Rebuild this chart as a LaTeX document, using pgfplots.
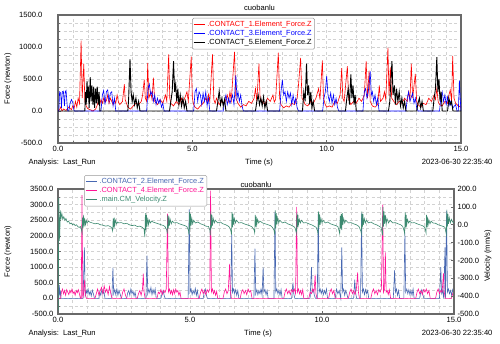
\documentclass[border=0pt]{standalone}
\usepackage{pgfplots}
\pgfplotsset{compat=1.18}
\usepackage{fontspec}
\setmainfont{Liberation Sans}

\definecolor{cred}{RGB}{255,0,0}
\definecolor{cblue}{RGB}{0,0,255}
\definecolor{cblack}{RGB}{0,0,0}
\definecolor{csteel}{RGB}{72,104,178}
\definecolor{cpink}{RGB}{255,20,150}
\definecolor{cgreen}{RGB}{60,138,112}
\definecolor{cframe}{RGB}{105,105,105}

\pgfplotsset{
  adams/.style={
    scale only axis,
    anchor=south west,
    font=\fontsize{7.6}{9}\selectfont,
    tick label style={font=\fontsize{7.6}{9}\selectfont},
    /pgf/number format/.cd, fixed, fixed zerofill, precision=1, 1000 sep={}, assume math mode=true,
    /pgfplots/.cd,
    axis line style={draw=cframe, line width=1.1pt},
    tick style={draw=cframe, line width=0.5pt},
    tick align=inside,
    major tick length=3pt,
    minor tick length=1.5pt,
    xmin=0, xmax=15,
    xtick={0,5,10,15},
    minor x tick num=8,
    grid=both,
    major grid style={draw=gray!35, dash pattern=on 3pt off 2.5pt, line width=0.4pt},
    minor grid style={draw=gray!35, dash pattern=on 3pt off 2.5pt, line width=0.4pt},
    legend cell align=left,
    legend image code/.code={\draw[##1, line width=0.8pt] (0cm,0cm) -- (0.4cm,0cm);},
    legend style={font=\fontsize{7.4}{8}\selectfont, draw=gray!80, fill=white,
      rounded corners=1.5pt, inner sep=1pt, row sep=-1.8pt, line width=0.5pt},
  },
}

\begin{document}
\begin{tikzpicture}[font=\fontsize{7.6}{9}\selectfont]
\useasboundingbox (0,0) rectangle (500pt,343pt);

% ---------- top plot ----------
\begin{axis}[adams,
  at={(58pt,200pt)}, width=403pt, height=128pt,
  ymin=-500, ymax=1500, ytick={-500,0,...,1500}, minor y tick num=3,
  xtick pos=bottom, ytick pos=left,
  yticklabel style={xshift=-12pt},
  legend style={at={(0.3325,0.977)}, anchor=north west},
]
\addplot[cred, line width=0.6pt] coordinates {
(0,0) (0.05,20) (0.1,60) (0.15,0) (0.2,30) (0.3,10) (0.4,60) (0.5,20) (0.55,80) (0.6,40) (0.65,150) (0.7,60) (0.75,200) (0.8,120) (0.86,1100) (0.9,200) (0.96,740) (1.0,150) (1.05,80) (1.1,40) (1.2,20) (1.3,0) (1.4,30) (1.45,80) (1.5,150) (1.55,100) (1.6,180) (1.65,120) (1.7,200) (1.75,140) (1.8,160) (1.85,250) (1.9,120) (1.95,200) (2.0,150) (2.05,100) (2.1,180) (2.15,120) (2.2,250) (2.25,140) (2.3,100) (2.4,150) (2.47,420) (2.5,180) (2.55,120) (2.6,60) (2.7,30) (2.8,80) (2.9,120) (3.0,100) (3.1,150) (3.15,250) (3.21,490) (3.25,200) (3.3,150) (3.34,750) (3.38,200) (3.45,300) (3.5,180) (3.55,520) (3.6,150) (3.7,100) (3.8,180) (3.9,120) (4.0,250) (4.05,150) (4.12,885) (4.16,200) (4.2,120) (4.3,80) (4.4,150) (4.5,100) (4.6,200) (4.65,120) (4.7,180) (4.8,300) (4.85,150) (4.96,850) (5.0,200) (5.05,100) (5.1,60) (5.2,30) (5.3,80) (5.4,120) (5.5,200) (5.55,140) (5.6,260) (5.65,150) (5.75,885) (5.8,180) (5.85,120) (5.9,200) (6.0,100) (6.1,150) (6.2,120) (6.3,250) (6.35,150) (6.4,300) (6.45,160) (6.57,925) (6.62,200) (6.7,120) (6.8,60) (6.9,100) (7.0,80) (7.1,150) (7.2,120) (7.3,200) (7.35,350) (7.4,150) (7.48,740) (7.52,200) (7.6,150) (7.7,100) (7.8,200) (7.9,150) (8.0,250) (8.05,140) (8.1,180) (8.2,910) (8.25,200) (8.3,100) (8.4,50) (8.5,80) (8.6,60) (8.7,120) (8.8,100) (8.9,200) (8.95,400) (9.03,830) (9.08,200) (9.15,150) (9.2,100) (9.3,80) (9.4,150) (9.5,120) (9.6,200) (9.7,350) (9.75,180) (9.84,790) (9.88,200) (9.95,100) (10.0,60) (10.1,80) (10.2,60) (10.3,150) (10.4,120) (10.5,250) (10.56,670) (10.6,200) (10.65,150) (10.77,700) (10.82,180) (10.9,100) (11.0,150) (11.1,120) (11.2,200) (11.3,150) (11.4,250) (11.47,780) (11.52,200) (11.58,630) (11.62,150) (11.7,80) (11.8,60) (11.9,100) (11.96,400) (12.0,150) (12.1,200) (12.15,300) (12.2,180) (12.28,990) (12.32,250) (12.37,680) (12.42,200) (12.5,150) (12.6,100) (12.7,150) (12.8,120) (12.9,200) (13.0,150) (13.05,300) (13.1,180) (13.15,740) (13.2,200) (13.3,580) (13.35,150) (13.4,100) (13.5,60) (13.6,120) (13.7,100) (13.8,200) (13.9,150) (14.0,250) (14.05,180) (14.1,350) (14.15,150) (14.2,100) (14.3,80) (14.4,150) (14.5,120) (14.55,250) (14.6,330) (14.65,150) (14.69,860) (14.74,200) (14.8,120) (14.9,80) (15.0,60)
};
\addlegendentry{\textcolor{cred}{.CONTACT\_1.Element\_Force.Z}}
\addplot[cblue, line width=0.6pt] coordinates {
(0,0) (0.03,0) (0.06,300) (0.1,280) (0.13,50) (0.16,300) (0.2,310) (0.24,80) (0.27,300) (0.3,320) (0.33,150) (0.36,0) (0.4,0) (0.45,120) (0.5,180) (0.55,130) (0.6,0)
(1.6,0) (1.65,250) (1.7,320) (1.75,100) (1.8,300) (1.85,330) (1.9,150) (1.95,280) (2.0,300) (2.05,80) (2.1,200) (2.15,0)
(3.3,0) (3.35,350) (3.4,420) (3.45,250) (3.5,300) (3.55,150) (3.6,250) (3.65,100) (3.7,200) (3.75,120) (3.8,180) (3.85,60) (3.9,120) (3.95,0)
(5.05,0) (5.1,300) (5.15,350) (5.2,150) (5.25,300) (5.3,250) (5.35,100) (5.4,280) (5.45,150) (5.5,300) (5.55,80) (5.6,200) (5.65,0)
(6.15,0) (6.2,150) (6.25,250) (6.3,100) (6.35,200) (6.4,120) (6.5,250) (6.55,100) (6.62,560) (6.66,200) (6.7,300) (6.75,150) (6.8,250) (6.85,80) (6.9,0)
(8.25,0) (8.3,300) (8.35,490) (8.4,250) (8.45,300) (8.5,150) (8.55,300) (8.6,200) (8.65,280) (8.7,100) (8.75,250) (8.8,120) (8.85,200) (8.9,50) (8.95,0)
(9.85,0) (9.9,200) (9.95,300) (10.0,546) (10.05,250) (10.1,150) (10.15,280) (10.2,120) (10.25,250) (10.3,100) (10.35,200) (10.4,60) (10.45,0)
(11.35,0) (11.4,300) (11.45,350) (11.5,200) (11.55,300) (11.62,620) (11.66,250) (11.7,300) (11.75,150) (11.8,250) (11.85,100) (11.9,200) (11.95,0)
(12.95,0) (13.0,200) (13.05,300) (13.1,150) (13.2,280) (13.25,120) (13.3,200) (13.35,50) (13.4,0)
(14.2,0) (14.25,200) (14.3,300) (14.35,150) (14.4,250) (14.45,100) (14.5,220) (14.55,80) (14.6,150) (14.7,50) (14.8,100) (14.85,0) (14.9,0) (14.94,480) (14.97,200) (15,0)
};
\addlegendentry{\textcolor{cblue}{.CONTACT\_3.Element\_Force.Z}}
\addplot[cblack, line width=0.9pt] coordinates {
(0,0) (1.0,0) (1.02,300) (1.05,100) (1.08,470) (1.1,200) (1.13,380) (1.16,50) (1.2,530) (1.23,150) (1.26,400) (1.3,100) (1.33,380) (1.36,50) (1.4,350) (1.43,120) (1.46,380) (1.5,100) (1.53,300) (1.56,0)
(2.6,0) (2.63,200) (2.68,810) (2.72,300) (2.76,150) (2.8,250) (2.85,100) (2.9,200) (2.95,50) (3.0,150) (3.05,0)
(4.15,0) (4.2,150) (4.25,300) (4.3,780) (4.34,300) (4.38,420) (4.42,150) (4.46,350) (4.5,100) (4.55,250) (4.6,80) (4.65,200) (4.7,50) (4.75,150) (4.8,0)
(5.9,0) (5.95,150) (6.0,310) (6.05,100) (6.1,200) (6.15,80) (6.2,180) (6.25,0)
(7.35,0) (7.4,150) (7.45,250) (7.5,100) (7.55,200) (7.6,80) (7.65,220) (7.7,50) (7.75,150) (7.8,0)
(9.1,0) (9.15,300) (9.2,150) (9.25,740) (9.29,250) (9.33,400) (9.37,100) (9.41,300) (9.45,50) (9.5,150) (9.55,0)
(10.7,0) (10.75,200) (10.8,350) (10.85,100) (10.9,570) (10.94,200) (10.98,400) (11.02,100) (11.06,250) (11.1,0)
(12.3,0) (12.35,150) (12.43,780) (12.47,250) (12.52,400) (12.56,100) (12.6,350) (12.65,150) (12.7,300) (12.75,80) (12.8,200) (12.85,50) (12.9,150) (12.95,0)
(13.35,0) (13.4,120) (13.45,200) (13.5,50) (13.55,150) (13.6,0)
(13.95,0) (14.0,200) (14.05,350) (14.1,840) (14.14,300) (14.18,500) (14.22,150) (14.26,300) (14.3,0)
(14.5,0) (14.55,200) (14.6,100) (14.65,150) (14.7,0) (15,0)
};
\addlegendentry{\textcolor{cblack}{.CONTACT\_5.Element\_Force.Z}}
\end{axis}

% ---------- bottom plot, left axis ----------
\begin{axis}[adams,
  at={(58pt,29pt)}, width=396pt, height=125pt,
  ymin=-500, ymax=3500, ytick={-500,0,...,3500}, minor y tick num=1,
  xtick pos=bottom, ytick pos=left,
  yticklabel style={xshift=-1pt},
]
\addplot[csteel, line width=0.6pt] coordinates {
(0,0) (0.03,0) (0.05,420) (0.07,100) (0.09,250) (0.11,0)
(0.95,0) (1.0,1630) (1.03,100) (1.07,250) (1.1,150) (1.14,300) (1.18,120) (1.22,220) (1.26,80) (1.3,260) (1.34,150) (1.38,0)
(1.55,0) (1.58,200) (1.62,100) (1.66,280) (1.7,150) (1.74,220) (1.78,0)
(2.04,0) (2.08,980) (2.11,150) (2.15,280) (2.19,120) (2.23,300) (2.27,100) (2.31,250) (2.35,150) (2.4,0)
(2.6,0) (2.64,180) (2.68,250) (2.72,100) (2.76,300) (2.8,150) (2.84,230) (2.88,80) (2.92,200) (2.96,0)
(3.33,0) (3.37,1370) (3.4,150) (3.44,300) (3.48,180) (3.52,350) (3.56,120) (3.6,280) (3.64,150) (3.68,300) (3.72,0)
(3.9,0) (3.94,150) (3.98,250) (4.02,100) (4.06,0)
(4.93,0) (4.97,2850) (5.0,200) (5.04,300) (5.08,120) (5.12,250) (5.16,150) (5.2,320) (5.24,100) (5.28,250) (5.32,0)
(5.5,0) (5.54,200) (5.58,300) (5.62,100) (5.66,0)
(6.54,0) (6.58,2050) (6.61,200) (6.65,300) (6.69,150) (6.73,280) (6.77,100) (6.81,250) (6.85,0)
(7.42,0) (7.46,1590) (7.49,150) (7.53,280) (7.57,120) (7.61,250) (7.65,150) (7.69,300) (7.73,100) (7.77,990) (7.8,200) (7.84,280) (7.88,120) (7.92,250) (7.96,0)
(8.18,0) (8.22,2750) (8.25,200) (8.29,300) (8.33,150) (8.37,250) (8.41,100) (8.45,280) (8.49,0)
(8.85,0) (8.9,500) (8.93,150) (8.97,0)
(9.55,0) (9.6,1000) (9.63,200) (9.67,280) (9.71,100) (9.75,0)
(9.82,0) (9.86,2720) (9.89,200) (9.93,300) (9.97,150) (10.01,280) (10.05,120) (10.09,250) (10.13,150) (10.17,300) (10.21,0)
(10.5,0) (10.55,300) (10.6,150) (10.65,250) (10.71,0) (10.75,1630) (10.78,200) (10.82,300) (10.86,100) (10.9,250) (10.94,150) (10.98,0)
(11.2,0) (11.24,600) (11.27,200) (11.31,0)
(11.46,0) (11.5,2720) (11.53,200) (11.57,300) (11.61,120) (11.65,280) (11.69,150) (11.73,250) (11.77,0)
(12.7,0) (12.75,900) (12.78,200) (12.82,300) (12.86,100) (12.9,250) (12.94,0)
(13.1,0) (13.14,2110) (13.17,200) (13.21,300) (13.25,150) (13.29,280) (13.33,120) (13.37,250) (13.41,100) (13.45,300) (13.49,0)
(13.7,0) (13.74,200) (13.78,280) (13.82,120) (13.86,0)
(14.45,0) (14.5,1000) (14.53,150) (14.57,250) (14.61,0) (14.66,1630) (14.68,0) (14.72,2800) (14.75,200) (14.79,300) (14.83,150) (14.87,250) (14.91,100) (14.95,280) (15,150)
};
\addplot[cpink, line width=0.6pt] coordinates {
(0,0) (0.1,0) (0.13,200) (0.17,300) (0.21,150) (0.25,250) (0.29,100) (0.33,280) (0.37,200) (0.41,120) (0.45,250) (0.49,180) (0.53,300) (0.57,150) (0.61,220) (0.65,100) (0.69,250) (0.73,180) (0.77,280) (0.81,150) (0.85,0) (0.88,0) (0.91,3300) (0.94,0) (0.98,200) (1.01,600) (1.04,100) (1.08,0)
(1.4,0) (1.45,150) (1.5,300) (1.55,100) (1.6,250) (1.65,350) (1.7,150) (1.75,400) (1.8,200) (1.85,300) (1.9,120) (1.95,380) (2.0,150) (2.05,0)
(2.4,0) (2.45,200) (2.5,300) (2.55,120) (2.6,0)
(3.0,0) (3.05,150) (3.1,250) (3.15,100) (3.2,300) (3.23,790) (3.26,200) (3.3,0)
(3.75,0) (3.8,200) (3.85,150) (3.9,280) (3.95,120) (4.0,250) (4.05,180) (4.1,300) (4.15,2710) (4.18,200) (4.22,300) (4.26,150) (4.3,250) (4.34,120) (4.38,280) (4.42,150) (4.46,300) (4.5,200) (4.54,250) (4.58,100) (4.62,200) (4.66,0)
(5.35,0) (5.4,200) (5.45,300) (5.5,150) (5.55,250) (5.6,120) (5.65,280) (5.7,200) (5.75,300) (5.78,3450) (5.81,200) (5.85,300) (5.89,150) (5.93,250) (5.97,100) (6.01,220) (6.05,0)
(6.25,0) (6.3,200) (6.35,300) (6.4,150) (6.45,250) (6.5,1100) (6.53,200) (6.57,0)
(6.9,0) (6.95,200) (7.0,280) (7.05,150) (7.1,250) (7.15,120) (7.2,300) (7.25,200) (7.3,250) (7.35,0)
(8.55,0) (8.6,200) (8.65,300) (8.7,150) (8.75,250) (8.8,120) (8.85,280) (8.9,200) (8.95,300) (9.0,150) (9.04,2930) (9.07,200) (9.11,300) (9.15,150) (9.19,250) (9.23,120) (9.27,280) (9.31,0)
(9.5,0) (9.55,200) (9.6,150) (9.65,300) (9.7,200) (9.74,760) (9.77,150) (9.81,0)
(10.25,0) (10.3,200) (10.35,300) (10.4,150) (10.45,250) (10.5,0)
(11.0,0) (11.05,200) (11.1,300) (11.15,150) (11.2,250) (11.25,120) (11.3,280) (11.35,830) (11.38,200) (11.42,0)
(11.85,0) (11.9,200) (11.95,300) (12.0,150) (12.05,250) (12.1,120) (12.15,280) (12.2,200) (12.25,300) (12.3,3000) (12.33,200) (12.37,300) (12.4,1470) (12.43,200) (12.47,250) (12.51,120) (12.55,280) (12.6,0)
(13.55,0) (13.6,200) (13.65,300) (13.7,150) (13.75,250) (13.8,120) (13.85,280) (13.9,200) (13.95,300) (14.0,150) (14.05,250) (14.1,0)
(14.3,0) (14.35,200) (14.4,300) (14.45,150) (14.5,250) (14.55,200) (14.6,800) (14.63,200) (14.67,0) (14.9,0) (14.95,150) (15,250)
};
\end{axis}

% ---------- bottom plot, right axis (velocity) ----------
\begin{axis}[adams,
  at={(58pt,29pt)}, width=396pt, height=125pt,
  grid=none, axis x line=none, axis y line*=right,
  ymin=-500, ymax=200, ytick={-500,-400,...,200}, minor y tick num=0,
  legend style={at={(0.066,1.112)}, anchor=north west},
]
\addlegendimage{csteel}
\addlegendentry{\textcolor{csteel}{.CONTACT\_2.Element\_Force.Z}}
\addlegendimage{cpink}
\addlegendentry{\textcolor{cpink}{.CONTACT\_4.Element\_Force.Z}}
\addplot[cgreen, line width=0.6pt] coordinates {
(0,-250) (0.01,-480) (0.02,-150) (0.03,150) (0.045,60) (0.06,-90) (0.08,20) (0.1,80) (0.12,40) (0.15,60) (0.18,30) (0.22,45) (0.26,25) (0.3,35) (0.35,15) (0.4,20) (0.45,5) (0.5,10) (0.55,0) (0.6,5) (0.65,-5) (0.7,0) (0.75,-10) (0.8,-15) (0.85,-10)
(0.89,-30) (0.91,-45) (0.93,40) (0.95,-20) (0.97,55) (0.99,-10) (1.01,35) (1.04,0) (1.07,25) (1.1,10) (1.15,20) (1.2,15) (1.3,10) (1.4,5) (1.5,8) (1.6,0) (1.7,-2) (1.8,-8) (1.9,-5) (2.0,-12)
(2.04,-20) (2.07,-35) (2.09,35) (2.11,-15) (2.13,40) (2.15,-5) (2.18,25) (2.22,5) (2.26,15) (2.3,10) (2.4,12) (2.5,5) (2.6,8) (2.7,0) (2.8,-5) (2.9,-2) (3.0,-10) (3.1,-8) (3.2,-15)
(3.26,-25) (3.29,-70) (3.31,65) (3.33,-30) (3.35,55) (3.37,-10) (3.4,40) (3.43,0) (3.46,25) (3.5,10) (3.55,20) (3.6,15) (3.7,10) (3.8,5) (3.9,0) (4.0,-5) (4.05,-10)
(4.12,-30) (4.14,-50) (4.16,55) (4.18,-20) (4.2,50) (4.22,-5) (4.25,30) (4.29,5) (4.33,20) (4.4,10) (4.5,12) (4.6,5) (4.7,0) (4.8,-5) (4.88,-10)
(4.94,-30) (4.96,-55) (4.98,70) (5.0,-25) (5.02,60) (5.04,-5) (5.07,35) (5.1,5) (5.14,25) (5.2,10) (5.3,15) (5.4,5) (5.5,0) (5.6,-8) (5.7,-10)
(5.75,-30) (5.77,-60) (5.79,75) (5.81,-20) (5.83,55) (5.85,-5) (5.88,35) (5.92,10) (5.96,25) (6.05,10) (6.15,15) (6.25,5) (6.35,0) (6.45,-8) (6.5,-15)
(6.55,-35) (6.57,-55) (6.59,70) (6.61,-15) (6.63,60) (6.65,0) (6.68,35) (6.72,10) (6.76,25) (6.85,10) (6.95,12) (7.05,5) (7.15,0) (7.25,-5) (7.35,-12)
(7.43,-30) (7.45,-45) (7.47,55) (7.49,-10) (7.51,45) (7.53,0) (7.56,30) (7.6,10) (7.65,20) (7.75,10) (7.85,5) (7.95,0) (8.05,-5) (8.12,-15)
(8.18,-30) (8.21,-55) (8.23,80) (8.25,-20) (8.27,65) (8.29,0) (8.32,40) (8.36,10) (8.4,25) (8.5,10) (8.6,15) (8.7,5) (8.8,0) (8.9,-8) (8.97,-15)
(9.01,-35) (9.03,-50) (9.05,65) (9.07,-15) (9.09,55) (9.11,0) (9.14,30) (9.18,10) (9.22,25) (9.3,10) (9.4,12) (9.5,5) (9.6,0) (9.7,-8) (9.78,-15)
(9.83,-35) (9.85,-55) (9.87,75) (9.89,-15) (9.91,60) (9.93,0) (9.96,35) (10.0,10) (10.04,25) (10.12,10) (10.22,15) (10.32,5) (10.42,0) (10.52,-5) (10.6,-10)
(10.64,-30) (10.67,-50) (10.69,50) (10.71,-20) (10.73,60) (10.75,-30) (10.77,65) (10.79,0) (10.82,35) (10.86,10) (10.9,25) (11.0,10) (11.1,12) (11.2,5) (11.3,0) (11.4,-10)
(11.47,-35) (11.49,-50) (11.51,75) (11.53,-15) (11.55,60) (11.57,0) (11.6,35) (11.64,10) (11.68,25) (11.76,10) (11.86,15) (11.96,5) (12.06,0) (12.16,-8) (12.24,-15)
(12.27,-40) (12.29,-60) (12.31,100) (12.33,-10) (12.35,75) (12.37,5) (12.4,55) (12.43,0) (12.46,35) (12.52,10) (12.58,25) (12.68,10) (12.78,12) (12.88,5) (12.98,0) (13.06,-10)
(13.11,-35) (13.13,-50) (13.15,70) (13.17,-15) (13.19,55) (13.21,0) (13.24,30) (13.28,10) (13.32,20) (13.4,10) (13.5,12) (13.6,5) (13.7,0) (13.8,-5) (13.88,-12)
(13.92,-30) (13.94,-45) (13.96,55) (13.98,-15) (14.0,45) (14.02,0) (14.05,25) (14.09,5) (14.13,20) (14.2,10) (14.3,8) (14.4,0) (14.5,-5) (14.6,-10) (14.66,-15)
(14.69,-40) (14.71,-55) (14.73,85) (14.75,-10) (14.77,60) (14.79,5) (14.82,40) (14.86,10) (14.9,30) (14.95,15) (15.0,10)
};
\addlegendentry{\textcolor{cgreen}{.main.CM\_Velocity.Z}}
\end{axis}

% ---------- titles and footers ----------
\node[anchor=base] at (259.5pt,332.5pt) {cuobanlu};
\node[anchor=base] at (256pt,155.5pt) {cuobanlu};
\node[rotate=90] at (8pt,264pt) {Force (newton)};
\node[rotate=90] at (8pt,91.5pt) {Force (newton)};
\node[rotate=90] at (488pt,87pt) {Velocity (mm/s)};
\node[anchor=base west] at (25pt,178.5pt) {Analysis:\ \ Last\_Run};
\node[anchor=base] at (259pt,178.5pt) {Time (s)};
\node[anchor=base east] at (496pt,178.5pt) {2023-06-30 22:35:40};
\node[anchor=base west] at (25pt,8pt) {Analysis:\ \ Last\_Run};
\node[anchor=base] at (258pt,8pt) {Time (s)};
\node[anchor=base east] at (496pt,8pt) {2023-06-30 22:35:40};
\end{tikzpicture}
\end{document}
